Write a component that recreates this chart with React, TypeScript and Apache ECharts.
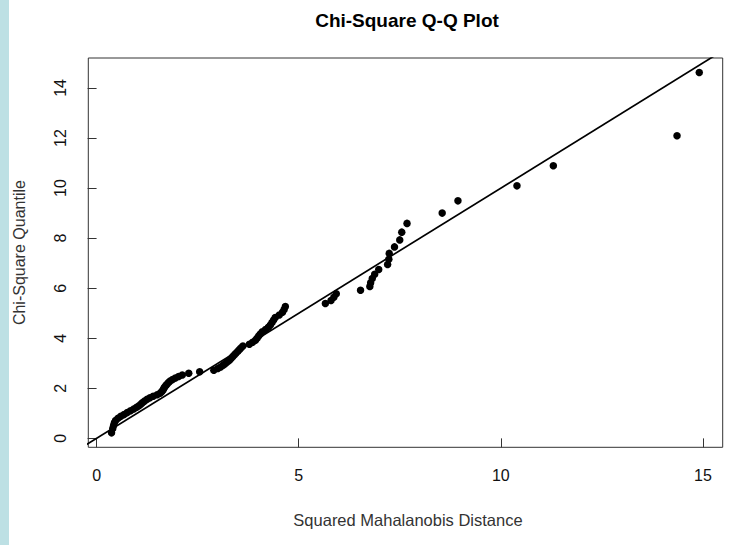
import React, { useEffect, useRef } from "react";
import * as echarts from "echarts";

// Chi-square quantiles (y) and sorted squared Mahalanobis distances (x)
const chiSquareQuantile = [
  0.22, 0.39, 0.51, 0.62, 0.71, 0.8, 0.88, 0.95, 1.03, 1.1,
  1.17, 1.24, 1.3, 1.37, 1.43, 1.49, 1.56, 1.62, 1.68, 1.74,
  1.8, 1.86, 1.92, 1.98, 2.04, 2.1, 2.16, 2.23, 2.29, 2.35,
  2.41, 2.47, 2.53, 2.6, 2.66, 2.72, 2.79, 2.85, 2.92, 2.98,
  3.05, 3.11, 3.18, 3.25, 3.32, 3.39, 3.47, 3.54, 3.61, 3.69,
  3.76, 3.84, 3.92, 4.0, 4.09, 4.17, 4.26, 4.35, 4.44, 4.53,
  4.63, 4.73, 4.83, 4.93, 5.04, 5.15, 5.27, 5.39, 5.51, 5.64,
  5.78, 5.92, 6.07, 6.22, 6.39, 6.56, 6.75, 6.95, 7.16, 7.39,
  7.65, 7.93, 8.24, 8.59, 9.0, 9.49, 10.09, 10.89, 12.09, 14.62,
];
const mahalanobisDistance = [
  0.37, 0.4, 0.42, 0.44, 0.47, 0.53, 0.6, 0.68, 0.76, 0.84,
  0.92, 0.99, 1.05, 1.1, 1.14, 1.19, 1.25, 1.32, 1.4, 1.5,
  1.57, 1.61, 1.64, 1.66, 1.68, 1.71, 1.74, 1.78, 1.82, 1.88,
  1.95, 2.03, 2.12, 2.28, 2.55, 2.9, 3.0, 3.07, 3.13, 3.18,
  3.23, 3.28, 3.32, 3.36, 3.4, 3.44, 3.49, 3.53, 3.57, 3.62,
  3.78, 3.86, 3.93, 3.97, 4.01, 4.05, 4.1, 4.18, 4.25, 4.3,
  4.34, 4.38, 4.42, 4.52, 4.6, 4.64, 4.67, 5.66, 5.8, 5.87,
  5.93, 6.53, 6.76, 6.78, 6.82, 6.88, 6.98, 7.2, 7.23, 7.24,
  7.37, 7.5, 7.55, 7.68, 8.55, 8.94, 10.4, 11.3, 14.36, 14.91,
];
// reference line y = x
const refLineX = [-1, 16];
const refLineY = [-1, 16];
const xTicks = [0, 5, 10, 15];
const yTicks = [0, 2, 4, 6, 8, 10, 12, 14];

const FONT = "'Liberation Sans', Arial, Helvetica, sans-serif";

export default function App() {
  const ref = useRef<HTMLDivElement>(null);
  useEffect(() => {
    if (!ref.current) return;
    const chart = echarts.init(ref.current, null, { renderer: "svg" });
    const gridLeft = 88.3;
    const gridTop = 58;
    const gridW = 634.4;
    const gridH = 389.3;
    chart.setOption({
      animation: false,
      backgroundColor: "#ffffff",
      grid: {
        left: gridLeft,
        top: gridTop,
        width: gridW,
        height: gridH,
        show: true,
        borderColor: "#333",
        borderWidth: 1,
        backgroundColor: "transparent",
        containLabel: false,
        outerBoundsMode: "none",
      },
      xAxis: {
        type: "value",
        min: -0.205,
        max: 15.49,
        axisLine: { show: false },
        splitLine: { show: false },
        axisTick: {
          show: true,
          length: 9,
          customValues: xTicks,
          lineStyle: { color: "#333", width: 1 },
        },
        axisLabel: {
          customValues: xTicks,
          margin: 20,
          color: "#111",
          fontSize: 16,
          fontFamily: FONT,
        },
      },
      yAxis: {
        type: "value",
        min: -0.357,
        max: 15.198,
        axisLine: { show: false },
        splitLine: { show: false },
        axisTick: {
          show: true,
          length: 9,
          customValues: yTicks,
          lineStyle: { color: "#333", width: 1 },
        },
        axisLabel: {
          customValues: yTicks,
          rotate: 90,
          margin: 20,
          color: "#111",
          fontSize: 16,
          fontFamily: FONT,
        },
      },
      series: [
        {
          type: "line",
          data: refLineX.map((x, i) => [x, refLineY[i]]),
          showSymbol: false,
          symbol: "none",
          clip: true,
          lineStyle: { color: "#000", width: 1.7 },
          silent: true,
          z: 2,
        },
        {
          type: "scatter",
          data: mahalanobisDistance.map((x, i) => [x, chiSquareQuantile[i]]),
          symbol: "circle",
          symbolSize: 7.5,
          itemStyle: { color: "#000", opacity: 1 },
          z: 3,
        },
      ],
      graphic: [
        {
          type: "rect",
          left: 0,
          top: 0,
          shape: { width: 9, height: 545 },
          style: { fill: "#bde0e4" },
          silent: true,
        },
        {
          type: "text",
          x: 407,
          y: 20,
          style: {
            text: "Chi-Square Q-Q Plot",
            font: `bold 19px ${FONT}`,
            fill: "#000",
            textAlign: "center",
            textVerticalAlign: "middle",
          },
        },
        {
          type: "text",
          x: 408,
          y: 520,
          style: {
            text: "Squared Mahalanobis Distance",
            font: `16.5px ${FONT}`,
            fill: "#333",
            textAlign: "center",
            textVerticalAlign: "middle",
          },
        },
        {
          type: "text",
          x: 19.5,
          y: 252.6,
          rotation: Math.PI / 2,
          style: {
            text: "Chi-Square Quantile",
            font: `16px ${FONT}`,
            fill: "#333",
            textAlign: "center",
            textVerticalAlign: "middle",
          },
        },
      ],
    });
    return () => chart.dispose();
  }, []);
  return (
    <div
      ref={ref}
      style={{ position: "fixed", left: 0, top: 0, width: 751, height: 545 }}
    />
  );
}
